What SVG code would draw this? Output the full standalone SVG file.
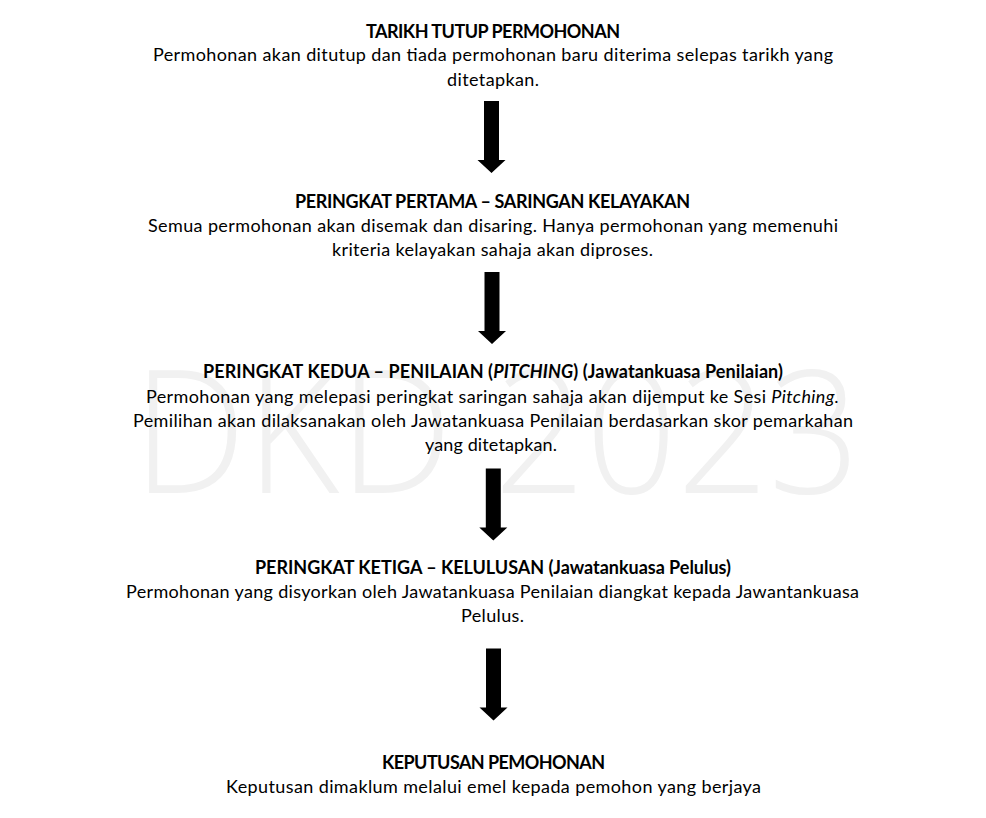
<svg xmlns="http://www.w3.org/2000/svg" xmlns:xlink="http://www.w3.org/1999/xlink" width="986" height="818" viewBox="0 0 986 818">
<style>
text{font-family:Lato,"Open Sans","Liberation Sans",sans-serif;fill:#000;}
.t{font-size:18px;font-weight:bold;}
.b{font-size:18px;}
.i{font-style:italic;}
.wm{font-family:"Open Sans","Noto Sans","Liberation Sans",sans-serif;font-weight:300;font-size:172px;fill:#f1f1f1;}
.arr{fill:#000;}
</style>
<defs>
<path id="arrow" d="M-7.5,0 H7.5 V59 H14 L0,72 L-14,59 H-7.5 Z"/>
</defs>
<rect width="986" height="818" fill="#fff"/>
<text class="wm" x="133" y="493" textLength="727" lengthAdjust="spacingAndGlyphs">DKD 2023</text>
<g id="connectors">
<use href="#arrow" class="arr" transform="translate(491.5,101)"/>
<use href="#arrow" class="arr" transform="translate(492,272)"/>
<use href="#arrow" class="arr" transform="translate(493.3,468.5)"/>
<use href="#arrow" class="arr" transform="translate(493.5,648.5)"/>
</g>
<g id="node1">
<text class="t" x="366" y="38" textLength="254">TARIKH TUTUP PERMOHONAN</text>
<text class="b" x="153" y="61" textLength="680">Permohonan akan ditutup dan tiada permohonan baru diterima selepas tarikh yang</text>
<text class="b" x="447" y="86" textLength="92">ditetapkan.</text>
</g>
<g id="node2">
<text class="t" x="295" y="208" textLength="395">PERINGKAT PERTAMA – SARINGAN KELAYAKAN</text>
<text class="b" x="148" y="232" textLength="690">Semua permohonan akan disemak dan disaring. Hanya permohonan yang memenuhi</text>
<text class="b" x="332" y="256" textLength="321">kriteria kelayakan sahaja akan diproses.</text>
</g>
<g id="node3">
<text class="t" x="203" y="378" textLength="580">PERINGKAT KEDUA – PENILAIAN (<tspan class="i">PITCHING</tspan>) (Jawatankuasa Penilaian)</text>
<text class="b" x="146" y="403" textLength="693">Permohonan yang melepasi peringkat saringan sahaja akan dijemput ke Sesi <tspan class="i">Pitching.</tspan></text>
<text class="b" x="133" y="427" textLength="720">Pemilihan akan dilaksanakan oleh Jawatankuasa Penilaian berdasarkan skor pemarkahan</text>
<text class="b" x="425" y="451" textLength="132">yang ditetapkan.</text>
</g>
<g id="node4">
<text class="t" x="255" y="574" textLength="476">PERINGKAT KETIGA – KELULUSAN (Jawatankuasa Pelulus)</text>
<text class="b" x="126" y="598" textLength="733">Permohonan yang disyorkan oleh Jawatankuasa Penilaian diangkat kepada Jawantankuasa</text>
<text class="b" x="461" y="622" textLength="63">Pelulus.</text>
</g>
<g id="node5">
<text class="t" x="382" y="769" textLength="223">KEPUTUSAN PEMOHONAN</text>
<text class="b" x="226" y="793" textLength="535">Keputusan dimaklum melalui emel kepada pemohon yang berjaya</text>
</g>
</svg>
